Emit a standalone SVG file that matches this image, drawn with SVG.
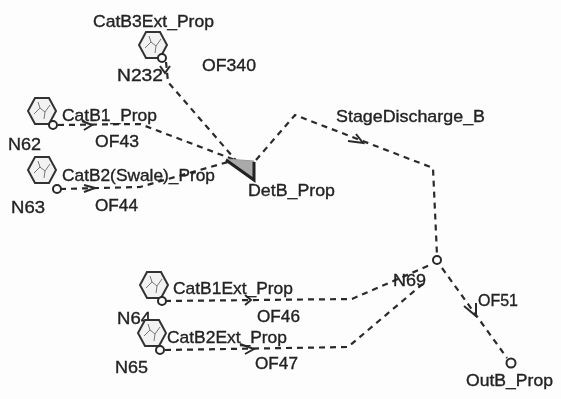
<svg xmlns="http://www.w3.org/2000/svg" width="561" height="399" viewBox="0 0 561 399">
<style>
text{font-family:"Liberation Sans",Arial,sans-serif;font-size:17px;fill:#222;stroke:#222;stroke-width:.35;lengthAdjust:spacingAndGlyphs}
.c{fill:none;stroke:#2a2a2a;stroke-width:2.200;stroke-dasharray:6 5}
.a{fill:none;stroke:#2a2a2a;stroke-width:2}
.h{fill:#f2f2f2;stroke:#333;stroke-width:2}
.d{fill:none;stroke:#777;stroke-width:1}
.o{fill:#fff;stroke:#2a2a2a;stroke-width:2}
</style>
<defs>
<g id="hex"><polygon class="h" points="-7,-13 7,-13 14,0 7,13 -7,13 -14,0"/><path class="d" d="M-8,3 L-2,-3 L3,1 L8,-6 M-2,-3 L-4,-9 M3,1 L2,8"/></g>
<filter id="soft" x="0" y="0" width="100%" height="100%"><feGaussianBlur stdDeviation="0.4"/></filter>
</defs>
<rect width="561" height="399" fill="#fdfdfd"/>
<g filter="url(#soft)">
<g id="connectors">
<path class="c" d="M166,62 L168,82 L240,165"/>
<path class="c" d="M58,125 L140,124 L235,160"/>
<path class="c" d="M60,189 L140,187 L228,162"/>
<path class="c" d="M256,160 L295,115 L433,168 L437,255"/>
<path class="c" d="M165,301 L352,299 L430,265"/>
<path class="c" d="M165,350 L348,347 L425,282"/>
<path class="c" d="M442,268 L507,358"/>
<path class="a" d="M160,66 L165,73 L170,66"/>
<path class="a" d="M82,121 L92,125 L84,130"/>
<path class="a" d="M84,185 L95,188 L84,192"/>
<path class="a" d="M348,141 L363,143 L356,134"/>
<path class="a" d="M245,295 L251,300 L245,305"/>
<path class="a" d="M240,344 L254,349 L245,354"/>
<path class="a" d="M464,306 L476,316 L476,303"/>
</g>
<g id="node-catb3ext"><use href="#hex" x="153" y="45"/><circle class="o" cx="162" cy="58" r="4"/><text x="93" y="27" textLength="121" lengthAdjust="spacingAndGlyphs">CatB3Ext_Prop</text><text x="117" y="81" textLength="46" lengthAdjust="spacingAndGlyphs">N232</text></g>
<g id="node-catb1"><use href="#hex" x="42" y="111"/><circle class="o" cx="53" cy="125" r="4"/><text x="62" y="121" textLength="95" lengthAdjust="spacingAndGlyphs">CatB1_Prop</text><text x="8" y="150" textLength="33" lengthAdjust="spacingAndGlyphs">N62</text></g>
<g id="node-catb2"><use href="#hex" x="42" y="170"/><circle class="o" cx="57" cy="189" r="4"/><text x="62" y="181" textLength="153" lengthAdjust="spacingAndGlyphs">CatB2(Swale)_Prop</text><text x="11" y="213" textLength="34" lengthAdjust="spacingAndGlyphs">N63</text></g>
<g id="node-detb"><polygon points="226,159 254,161 254,179" fill="#aaa" stroke="#999" stroke-width="1"/><path d="M226,160 L254,180 L254,162" fill="none" stroke="#222" stroke-width="3"/><text x="248" y="196" textLength="87" lengthAdjust="spacingAndGlyphs">DetB_Prop</text></g>
<g id="node-n69"><circle class="o" cx="437" cy="260" r="4"/><text x="393" y="286" textLength="33" lengthAdjust="spacingAndGlyphs">N69</text></g>
<g id="node-outb"><circle class="o" cx="511" cy="363" r="4.500"/><text x="466" y="386" textLength="87" lengthAdjust="spacingAndGlyphs">OutB_Prop</text></g>
<g id="node-catb1ext"><use href="#hex" x="154" y="285"/><circle class="o" cx="162" cy="301" r="4"/><text x="173" y="294" textLength="120" lengthAdjust="spacingAndGlyphs">CatB1Ext_Prop</text><text x="117" y="324" textLength="34" lengthAdjust="spacingAndGlyphs">N64</text></g>
<g id="node-catb2ext"><use href="#hex" x="152" y="333"/><circle class="o" cx="160" cy="350" r="4"/><text x="167" y="343" textLength="120" lengthAdjust="spacingAndGlyphs">CatB2Ext_Prop</text><text x="115" y="373" textLength="33" lengthAdjust="spacingAndGlyphs">N65</text></g>
<g id="labels">
<text x="202" y="71" textLength="54" lengthAdjust="spacingAndGlyphs">OF340</text>
<text x="95" y="147" textLength="44" lengthAdjust="spacingAndGlyphs">OF43</text>
<text x="95" y="211" textLength="43" lengthAdjust="spacingAndGlyphs">OF44</text>
<text x="336" y="122" textLength="149" lengthAdjust="spacingAndGlyphs">StageDischarge_B</text>
<text x="257" y="322" textLength="43" lengthAdjust="spacingAndGlyphs">OF46</text>
<text x="255" y="369" textLength="43" lengthAdjust="spacingAndGlyphs">OF47</text>
<text x="478" y="306" textLength="40" lengthAdjust="spacingAndGlyphs">OF51</text>
</g>
</g>
</svg>
